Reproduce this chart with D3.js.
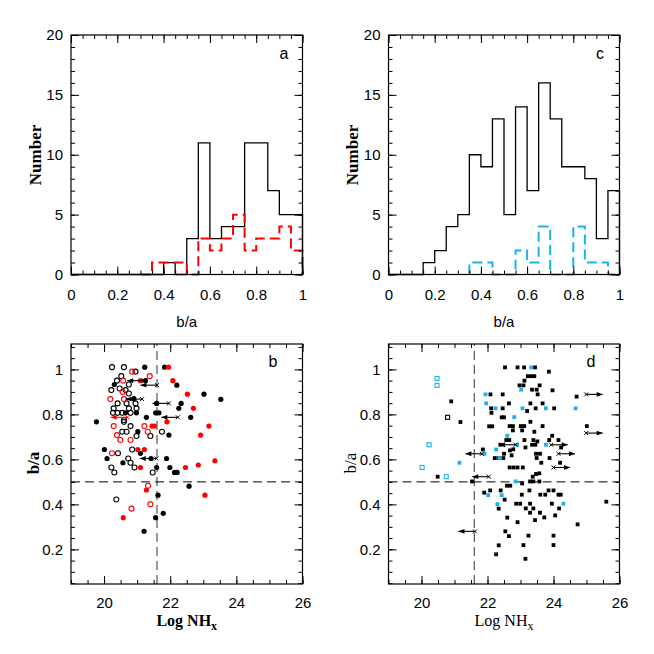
<!DOCTYPE html>
<html>
<head>
<meta charset="utf-8">
<script src="https://cdn.jsdelivr.net/npm/d3@7"></script>
<style>
  body { margin: 0; background: #fff; }
  text { font-family: "Liberation Sans", Arial, sans-serif; }
  .serif { font-family: "Liberation Serif", "Times New Roman", serif; }
</style>
</head>
<body>
<svg id="chart" width="654" height="654"></svg>
<script>
// ---- histogram data (bins of 0.05 in b/a) ----
const binStarts = [0,0.05,0.1,0.15,0.2,0.25,0.3,0.35,0.4,0.45,0.5,0.55,0.6,0.65,0.7,0.75,0.8,0.85,0.9,0.95];
const histA_all = [0,0,0,0,0,0,0,0,1,0,3,11,3,4,4,11,11,7,5,5];
const histA_red = [0,0,0,0,0,0,0,1,1,1,0,3,2,3,5,2,3,3,4,2];
const histC_all = [0,0,0,1,2,4,5,10,9,13,5,14,7,16,13,9,9,8,3,7];
const histC_cyan = [0,0,0,0,0,0,0,1,1,0,0,2,1,4,0,0,4,1,1,0];

// ---- panel b: Log NHx vs b/a ----
const bBlackFilled = [[21.23,1.01],[21.83,1.01],[21.25,0.95],[20.31,0.933],[22.2,0.93],[23.02,0.89],[23.53,0.867],
  [20.9,0.87],[21.59,0.849],[22.33,0.849],[22.26,0.827],[20.65,0.807],[20.98,0.807],[21.56,0.807],[21.66,0.807],
  [22.62,0.787],[21.28,0.787],[19.77,0.767],[21.02,0.723],[21.96,0.708],[20.01,0.644],[21.1,0.627],[20.09,0.604],
  [21.42,0.604],[21.89,0.604],[20.57,0.585],[21.59,0.564],[21.99,0.564],[22.13,0.542],[22.21,0.542],[22.57,0.481],
  [21.63,0.441],[21.79,0.36],[21.56,0.341],[21.21,0.28]];
const bBlackOpen = [[20.24,1.01],[20.6,1.01],[20.95,0.99],[20.52,0.97],[20.39,0.95],[20.75,0.933],[20.47,0.915],
  [20.65,0.908],[20.22,0.908],[20.75,0.893],[20.41,0.849],[20.68,0.849],[20.95,0.849],[20.29,0.827],[20.75,0.827],
  [20.98,0.827],[20.27,0.807],[20.41,0.807],[20.55,0.807],[20.8,0.807],[20.6,0.775],[20.6,0.767],[20.8,0.748],
  [20.55,0.723],[20.68,0.723],[20.98,0.704],[21.4,0.704],[21.75,0.723],[20.85,0.644],[20.42,0.627],[20.73,0.604],
  [20.8,0.585],[20.22,0.564],[20.92,0.564],[20.31,0.542],[21.47,0.542],[20.37,0.422]];
const bRedFilled = [[21.95,1.01],[21.1,0.95],[22.08,0.95],[22.52,0.89],[22.7,0.827],[21.9,0.767],[21.45,0.748],
  [21.52,0.748],[23.17,0.748],[22.92,0.708],[21.02,0.644],[21.22,0.644],[21.1,0.564],[22.46,0.564],[22.85,0.575],
  [23.35,0.594],[21.28,0.464],[23.05,0.441],[20.58,0.341]];
const bRedOpen = [[20.85,0.99],[21.38,0.97],[20.58,0.95],[20.56,0.9],[20.19,0.868],[20.6,0.868],[20.29,0.748],
  [21.22,0.748],[21.32,0.723],[20.39,0.708],[20.49,0.686],[20.8,0.686],[20.24,0.627],[21.33,0.483],[21.4,0.401],
  [20.83,0.381]];
const bUpperBlack = [[21.2,0.95],[21.6,0.93],[21.15,0.868],[21.96,0.849],[22.23,0.787],[21.58,0.604]];
const bUpperRed = [[20.7,0.787]];

// ---- panel d ----
const dBlack = [[22.53,1.009],[22.09,0.889],[22.46,0.889],[20.9,0.858],[22.65,0.849],[22.11,0.827],[22.46,0.827],
  [22.12,0.807],[22.43,0.787],[22.5,0.787],[21.18,0.766],[22.05,0.747],[22.14,0.747],[22.57,0.686],[22.66,0.686],
  [22.39,0.665],[21.86,0.644],[22.5,0.625],[22.22,0.606],[22.34,0.606],[22.48,0.606],
  [20.49,0.523],[21.53,0.502],[21.9,0.452],[22.08,0.462],[22.4,0.462],[22.52,0.421],[22.34,0.381],[22.6,0.341],
  [22.54,0.28],[22.65,0.259],[22.34,0.218],[22.26,0.178],
  [22.91,1.009],[23.11,1.009],[23.44,1.009],[23.86,0.99],[23.22,0.97],[23.32,0.97],[23.42,0.97],[23.12,0.95],
  [22.97,0.929],[23.09,0.929],[23.58,0.929],[23.35,0.91],[23.49,0.91],[23.97,0.907],[23.52,0.889],[24.7,0.879],
  [23.3,0.849],[23.67,0.849],[23.2,0.815],[23.46,0.827],[24.02,0.827],[23.3,0.767],[22.67,0.748],[22.77,0.748],
  [23.01,0.748],[23.11,0.748],[23.67,0.748],[25.01,0.748],[22.77,0.729],[23.05,0.729],[23.42,0.723],[23.12,0.686],
  [23.39,0.686],[23.51,0.68],[23.87,0.686],[24.15,0.686],[23.96,0.705],[23.35,0.665],[23.45,0.665],[23.15,0.653],
  [22.78,0.645],[22.68,0.64],[24.23,0.653],[23.47,0.625],[23.59,0.625],[23.49,0.606],[23.88,0.606],[22.73,0.618],
  [22.67,0.564],[22.79,0.564],[22.91,0.564],[23.07,0.564],
  [23.63,0.585],[24.2,0.585],[23.37,0.523],[23.47,0.535],[23.57,0.538],[23.29,0.502],[23.39,0.502],[23.57,0.502],
  [23.05,0.493],[22.59,0.483],[22.69,0.483],[23.27,0.462],[23.85,0.462],[24.0,0.462],[23.04,0.443],[23.6,0.443],
  [23.75,0.443],[24.15,0.443],[24.22,0.443],[22.87,0.403],[22.99,0.403],[23.29,0.403],[23.95,0.403],[25.6,0.412],
  [23.16,0.382],[23.39,0.382],[24.17,0.382],[23.29,0.363],[23.59,0.363],[24.05,0.351],[23.44,0.33],[22.91,0.321],
  [23.72,0.342],[24.73,0.311],[23.24,0.261],[24.0,0.261],[23.09,0.219],[24.0,0.219],[23.15,0.158]];
const dBlackOpen = [[20.79,0.787]];
const dCyan = [[21.94,0.889],[21.96,0.849],[22.24,0.827],[22.6,0.705],[22.26,0.644],[21.91,0.625],[22.36,0.606],
  [21.15,0.585],[22.02,0.441],[22.43,0.441],[22.3,0.401],[23.33,1.009],[23.02,0.91],[23.06,0.827],[23.77,0.827],
  [24.67,0.827],[22.81,0.788],[22.9,0.665],[23.77,0.665],[22.85,0.502],[24.3,0.403]];
const dCyanOpen = [[20.47,0.96],[20.47,0.929],[20.23,0.665],[20.02,0.564],[20.75,0.523]];
const dUpper = [[21.83,0.625],[22.04,0.523],[21.62,0.28],[22.85,0.665]];
const dLower = [[24.99,0.889],[24.99,0.717],[23.93,0.665],[24.15,0.625],[24.0,0.564]];

const histTicksMajor = [0,0.2,0.4,0.6,0.8,1];
const countTicks = [0,5,10,15,20];
const nhTicks = [20,22,24,26];
const baTicks = [0.2,0.4,0.6,0.8,1];

const RED = "#ff0000", CYAN = "#17b4ea";

const svg = d3.select("#chart");

// scales
const xHistL = d3.scaleLinear().domain([0, 1]).range([71, 302.5]);
const xHistR = d3.scaleLinear().domain([0, 1]).range([388.5, 619.5]);
const yHist = d3.scaleLinear().domain([0, 20]).range([274.5, 35]);
const xNhL = d3.scaleLinear().domain([19, 26]).range([71, 302.5]);
const xNhR = d3.scaleLinear().domain([19, 26]).range([388.5, 619.5]);
const yBa = d3.scaleLinear().domain([0.046, 1.113]).range([584, 344]);

function stepPath(x, y, counts, from) {
  // stepped outline from bin 'from' to the right edge
  const pts = [[binStarts[from], 0]];
  for (let i = from; i < counts.length; i++) {
    pts.push([binStarts[i], counts[i]]);
    pts.push([binStarts[i] + 0.05, counts[i]]);
  }
  pts.push([1, 0]);
  return d3.line().x(d => x(d[0])).y(d => y(d[1]))(pts);
}

function frameAndTicks(x, y, xMaj, xMin, yMaj, yMin, xFmt, yFmt, xPad) {
  const g = svg.append("g");
  const [x0, x1] = x.range(), [y0, y1] = y.range();
  const makers = [() => d3.axisBottom(x), () => d3.axisTop(x), () => d3.axisLeft(y), () => d3.axisRight(y)];
  const trans = [`translate(0,${y0})`, `translate(0,${y1})`, `translate(${x0},0)`, `translate(${x1},0)`];
  makers.forEach((mk, i) => {
    const horiz = i < 2;
    g.append("g").attr("transform", trans[i])
      .call(mk().tickValues(horiz ? xMin : yMin).tickSize(-4).tickFormat(""));
    g.append("g").attr("transform", trans[i])
      .call(mk().tickValues(horiz ? xMaj : yMaj).tickSize(-8)
        .tickPadding(i === 0 ? xPad : 8)
        .tickFormat(i === 0 ? xFmt : i === 2 ? yFmt : ""));
  });
  g.selectAll(".domain").remove();
  g.selectAll(".tick line").attr("stroke", "#000").attr("stroke-width", 1);
  g.selectAll(".tick text").attr("fill", "#000").style("font-size", "15px")
    .style("font-family", "'Liberation Sans', Arial, sans-serif");
  g.append("rect").attr("x", x0).attr("y", y1).attr("width", x1 - x0).attr("height", y0 - y1)
    .attr("fill", "none").attr("stroke", "#000").attr("stroke-width", 1.2);
}

const fmtHist = d => d === 0 ? "0" : d === 1 ? "1" : d.toFixed(1);
const fmtBa = d => d === 1 ? "1" : d.toFixed(1);
const minorHist = d3.range(0, 1.001, 0.05);
const minorCount = d3.range(0, 20.5, 1);
const minorNh = d3.range(19, 26.01, 0.5);
const minorBa = d3.range(0.05, 1.11, 0.05);

// ---- panel a ----
svg.append("path").attr("d", stepPath(xHistL, yHist, histA_all, 0))
  .attr("fill", "none").attr("stroke", "#000").attr("stroke-width", 1.3);
svg.append("path").attr("d", stepPath(xHistL, yHist, histA_red, 6))
  .attr("fill", "none").attr("stroke", RED).attr("stroke-width", 2).attr("stroke-dasharray", "10,5");
frameAndTicks(xHistL, yHist, histTicksMajor, minorHist, countTicks, minorCount, fmtHist, d3.format("d"), 15);

// ---- panel c ----
svg.append("path").attr("d", stepPath(xHistR, yHist, histC_all, 0))
  .attr("fill", "none").attr("stroke", "#000").attr("stroke-width", 1.3);
svg.append("path").attr("d", stepPath(xHistR, yHist, histC_cyan, 7))
  .attr("fill", "none").attr("stroke", CYAN).attr("stroke-width", 2).attr("stroke-dasharray", "10,5");
frameAndTicks(xHistR, yHist, histTicksMajor, minorHist, countTicks, minorCount, fmtHist, d3.format("d"), 15);

// ---- reference dashed lines ----
function refLines(x, y) {
  svg.append("line").attr("x1", x(21.6)).attr("x2", x(21.6)).attr("y1", y.range()[0]).attr("y2", y.range()[1])
    .attr("stroke", "#555").attr("stroke-width", 1.2).attr("stroke-dasharray", "9,5");
  svg.append("line").attr("x1", x.range()[0]).attr("x2", x.range()[1]).attr("y1", y(0.5)).attr("y2", y(0.5))
    .attr("stroke", "#000").attr("stroke-width", 1).attr("stroke-dasharray", "9,5");
}

function limitArrows(x, y, data, dir, color) {
  const g = svg.append("g").attr("stroke", color).attr("fill", color);
  data.forEach(d => {
    const xs = x(d[0]), ys = y(d[1]), xe = x(d[0] + dir * 0.5);
    g.append("line").attr("x1", xs).attr("x2", xe).attr("y1", ys).attr("y2", ys).attr("stroke-width", 1.1);
    g.append("path").attr("stroke", "none")
      .attr("d", `M${xe},${ys}L${xe - dir * 6},${ys - 2.4}L${xe - dir * 6},${ys + 2.4}Z`);
    g.append("path").attr("fill", "none").attr("stroke-width", 1)
      .attr("d", `M${xs - 2},${ys - 2}L${xs + 2},${ys + 2}M${xs - 2},${ys + 2}L${xs + 2},${ys - 2}`);
  });
}

function circles(x, y, data, color, filled) {
  svg.append("g").selectAll("circle").data(data).join("circle")
    .attr("cx", d => x(d[0])).attr("cy", d => y(d[1]))
    .attr("r", filled ? 2.6 : 2.5)
    .attr("fill", filled ? color : "none")
    .attr("stroke", filled ? "none" : color).attr("stroke-width", 1.1);
}

function squares(x, y, data, color, filled) {
  const s = filled ? 3.8 : 4;
  svg.append("g").selectAll("rect").data(data).join("rect")
    .attr("x", d => x(d[0]) - s / 2).attr("y", d => y(d[1]) - s / 2)
    .attr("width", s).attr("height", s)
    .attr("fill", filled ? color : "none")
    .attr("stroke", filled ? "none" : color).attr("stroke-width", 1.1);
}

// ---- panel b ----
refLines(xNhL, yBa);
circles(xNhL, yBa, bBlackOpen, "#000", false);
circles(xNhL, yBa, bRedOpen, RED, false);
circles(xNhL, yBa, bBlackFilled, "#000", true);
circles(xNhL, yBa, bRedFilled, RED, true);
limitArrows(xNhL, yBa, bUpperBlack, -1, "#000");
limitArrows(xNhL, yBa, bUpperRed, -1, RED);
frameAndTicks(xNhL, yBa, nhTicks, minorNh, baTicks, minorBa, d3.format("d"), fmtBa, 13);

// ---- panel d ----
refLines(xNhR, yBa);
squares(xNhR, yBa, dBlack, "#000", true);
squares(xNhR, yBa, dCyan, CYAN, true);
squares(xNhR, yBa, dBlackOpen, "#000", false);
squares(xNhR, yBa, dCyanOpen, CYAN, false);
limitArrows(xNhR, yBa, dUpper, -1, "#000");
limitArrows(xNhR, yBa, dLower, 1, "#000");
frameAndTicks(xNhR, yBa, nhTicks, minorNh, baTicks, minorBa, d3.format("d"), fmtBa, 13);

// ---- panel letters ----
[["a", 284, 59], ["c", 600, 59], ["b", 273, 367], ["d", 591, 367]].forEach(([t, x, y]) =>
  svg.append("text").attr("x", x).attr("y", y).attr("text-anchor", "middle").style("font-size", "16px").text(t));

// ---- axis titles ----
function rotLabel(x, y, txt, bold) {
  svg.append("text").attr("class", "serif").attr("transform", `translate(${x},${y}) rotate(-90)`)
    .attr("text-anchor", "middle").style("font-size", "17px").style("font-weight", bold ? "bold" : "normal").text(txt);
}
rotLabel(41, 155, "Number", true);
rotLabel(358, 155, "Number", true);
rotLabel(39, 463, "b/a", true);
rotLabel(356, 463, "b/a", false);

svg.append("text").attr("x", (xHistL.range()[0] + xHistL.range()[1]) / 2).attr("y", 327)
  .attr("text-anchor", "middle").style("font-size", "15px").text("b/a");
svg.append("text").attr("x", (xHistR.range()[0] + xHistR.range()[1]) / 2).attr("y", 327)
  .attr("text-anchor", "middle").style("font-size", "15px").text("b/a");

function nhLabel(x, bold) {
  const t = svg.append("text").attr("class", "serif").attr("x", x).attr("y", 626)
    .attr("text-anchor", "middle").style("font-size", "16px").style("font-weight", bold ? "bold" : "normal");
  t.append("tspan").text("Log  NH");
  t.append("tspan").attr("dy", 4).style("font-size", "12px").text("x");
}
nhLabel((xNhL.range()[0] + xNhL.range()[1]) / 2, true);
nhLabel((xNhR.range()[0] + xNhR.range()[1]) / 2, false);
</script>
</body>
</html>
